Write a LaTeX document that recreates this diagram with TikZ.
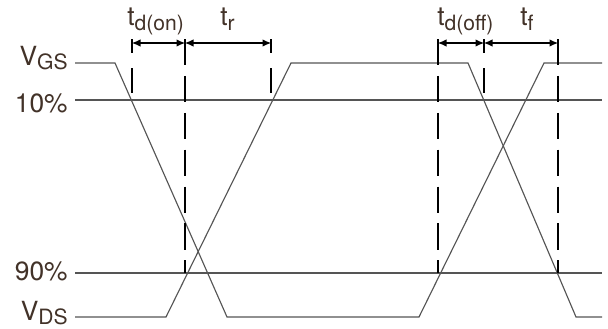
\documentclass[tikz,border=0pt]{standalone}
\usepackage{fontspec}
\setmainfont{TeX Gyre Heros}
\usetikzlibrary{arrows.meta,calc}
\definecolor{labelbrown}{RGB}{66,50,40}
\definecolor{tracegray}{RGB}{85,85,85}
\tikzset{
    timing diagram/.style = {x=0.02cm, y=-0.02cm,
                             >={Latex[length=1.7mm, width=1.5mm]}},
    trace/.style  = {draw=tracegray, line width=0.65pt},
    level/.style  = {draw=tracegray, line width=0.6pt},
    marker/.style = {draw=black, line width=1.1pt},
    guide/.style  = {draw=black, line width=0.7pt,
                     dash pattern=on 15pt off 6pt},
    span/.style   = {<->, line width=0.6pt},
    lbl/.style    = {text=labelbrown, inner sep=0pt,
                     font=\fontsize{15}{17}\selectfont}
}
\newcommand{\subtxt}[1]{\raisebox{-2.5pt}{\fontsize{12}{13}\selectfont #1}}
\def\highrow{63}
\def\lowrow{317}
\def\tenrow{100}
\def\ninetyrow{273}
\def\spanrow{43}
\def\leftend{75}
\def\rightend{602}

\begin{document}
\begin{tikzpicture}[timing diagram]
\useasboundingbox (0,0) rectangle (608,328);

% ================= Levels =================
\coordinate (ten w) at (\leftend,\tenrow);
\coordinate (ten e) at (\rightend,\tenrow);
\coordinate (ninety w) at (\leftend,\ninetyrow);
\coordinate (ninety e) at (\rightend,\ninetyrow);
\draw[level] (ten w) -- (ten e);
\draw[level] (ninety w) -- (ninety e);

\node[lbl, anchor=base east] (vgs) at (68,65) {V\subtxt{GS}};
\node[lbl, anchor=base east] (pct10) at (68,112) {10\%};
\node[lbl, anchor=base east] (pct90) at (68,280) {90\%};
\node[lbl, anchor=base east] (vds) at (68,320) {V\subtxt{DS}};

% ================= Waveforms =================
\draw[trace] (\leftend,\highrow) -- (115,\highrow) -- (227,\lowrow)
    -- (419,\lowrow) -- (544,\highrow) -- (\rightend,\highrow);
\draw[trace] (\leftend,\lowrow) -- (166,\lowrow) -- (291,\highrow)
    -- (468,\highrow) -- (576,\lowrow) -- (\rightend,\lowrow);

% ================= Timing marks =================
\coordinate (on0) at (132,\spanrow);
\coordinate (on1) at (185,\spanrow);
\coordinate (on2) at (271,\spanrow);
\coordinate (off0) at (438,\spanrow);
\coordinate (off1) at (484,\spanrow);
\coordinate (off2) at (558,\spanrow);

\foreach \c in {on0,on2,off1} {
    \draw[marker] ($(\c)+(0,-4)$) -- ($(\c)+(0,10)$);
    \draw[marker] ($(\c)+(0,25)$) -- ($(\c)+(0,50)$);
}
\foreach \c in {on1,off0,off2}
    \draw[guide] ($(\c)+(0,-4)$) -- (\c |- ninety w);

\draw[span] (on0) -- (on1);
\draw[span] (on1) -- (on2);
\draw[span] (off0) -- (off1);
\draw[span] (off1) -- (off2);

\node[lbl, anchor=base west] (tdon) at (127,26) {t\subtxt{d(on)}};
\node[lbl, anchor=base west] (tr) at (220,26) {t\subtxt{r}};
\node[lbl, anchor=base west] (tdoff) at (437,26) {t\subtxt{d(off)}};
\node[lbl, anchor=base west] (tf) at (520,26) {t\subtxt{f}};

\end{tikzpicture}
\end{document}
